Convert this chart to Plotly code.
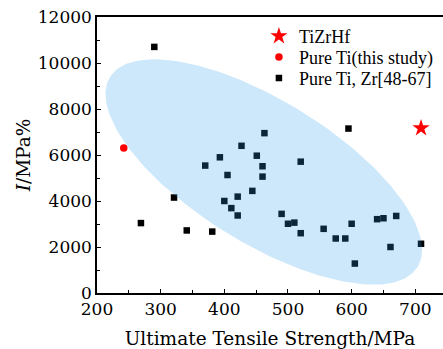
import numpy as np
import plotly.graph_objects as go

# Ultimate tensile strength (MPa) and I (MPa%)
tizrhf_uts = [709]
tizrhf_I = [7170]

pure_ti_uts = [242]
pure_ti_I = [6300]

lit_uts = [290, 427, 463, 595, 370, 393, 405, 451, 460, 460, 520, 321, 400, 421,
           444, 411, 421, 269, 341, 381, 490, 500, 510, 520, 556, 575, 590, 600,
           605, 640, 650, 670, 661, 709]
lit_I = [10700, 6400, 6950, 7150, 5540, 5900, 5130, 5970, 5510, 5060, 5710, 4150,
         4000, 4190, 4440, 3690, 3370, 3040, 2720, 2670, 3440, 3010, 3060, 2600,
         2790, 2370, 2370, 3010, 1280, 3210, 3250, 3350, 2000, 2140]

# Highlight ellipse around the literature cluster (centre and conjugate half-axes)
ell_cx, ell_cy = 462, 5262
ell_u = (241.5, -4130)
ell_v = (-59.1, -2633)
t = np.linspace(0, 2 * np.pi, 200)
ell_x = ell_cx + ell_u[0] * np.cos(t) + ell_v[0] * np.sin(t)
ell_y = ell_cy + ell_u[1] * np.cos(t) + ell_v[1] * np.sin(t)

axis_font = dict(family="DejaVu Serif", size=17, color="black")
legend_font = dict(family="Liberation Serif", size=18, color="black")

fig = go.Figure()
fig.add_trace(go.Scatter(
    x=tizrhf_uts, y=tizrhf_I, mode="markers", name="TiZrHf", legend="legend",
    marker=dict(symbol="star", size=13, color="#ff0000", line=dict(width=0)),
))
fig.add_trace(go.Scatter(
    x=pure_ti_uts, y=pure_ti_I, mode="markers", name="Pure Ti(this study)",
    legend="legend2",
    marker=dict(symbol="circle", size=7.5, color="#ff0000", line=dict(width=0)),
))
fig.add_trace(go.Scatter(
    x=lit_uts, y=lit_I, mode="markers", name="Pure Ti, Zr[48-67]",
    legend="legend3",
    marker=dict(symbol="square", size=6.5, color="black", line=dict(width=0)),
))
fig.add_trace(go.Scatter(
    x=ell_x, y=ell_y, mode="lines", fill="toself",
    fillcolor="rgba(40,160,235,0.24)", line=dict(width=0),
    showlegend=False, hoverinfo="skip",
))

# one legend box per entry so the rows sit at a fixed spacing
legend_rows = {"legend": 0.930, "legend2": 0.854, "legend3": 0.778}
legend_cfg = {
    name: dict(x=0.468, y=yv, xanchor="left", yanchor="middle",
               bgcolor="rgba(0,0,0,0)", font=legend_font, itemwidth=30)
    for name, yv in legend_rows.items()
}

fig.update_layout(
    width=443, height=349,
    margin=dict(l=97, r=0, t=17, b=56),
    plot_bgcolor="white", paper_bgcolor="white",
    showlegend=True,
    **legend_cfg,
)
fig.update_xaxes(
    range=[200, 743.5], dtick=100, tick0=200, tickformat="d",
    showline=True, linecolor="black", linewidth=1.5, mirror=True,
    ticks="inside", ticklen=4, tickwidth=1, tickcolor="black",
    minor=dict(ticks="inside", ticklen=3, dtick=50, tickcolor="black"),
    showgrid=False, zeroline=False,
    tickfont=axis_font,
    title=dict(text="Ultimate Tensile Strength/MPa",
               font=dict(family="DejaVu Serif", size=18.5, color="black"),
               standoff=14),
)
fig.update_yaxes(
    range=[0, 12000], dtick=2000, tickformat="d",
    showline=True, linecolor="black", linewidth=1.5, mirror=False,
    ticks="inside", ticklen=4, tickwidth=1, tickcolor="black",
    minor=dict(ticks="inside", ticklen=3, dtick=1000, tickcolor="black"),
    showgrid=False, zeroline=False,
    tickfont=axis_font,
    title=dict(text="<i>I</i>/MPa%",
               font=dict(family="DejaVu Serif", size=18.5, color="black"),
               standoff=2),
)

fig.write_html("out.html")
